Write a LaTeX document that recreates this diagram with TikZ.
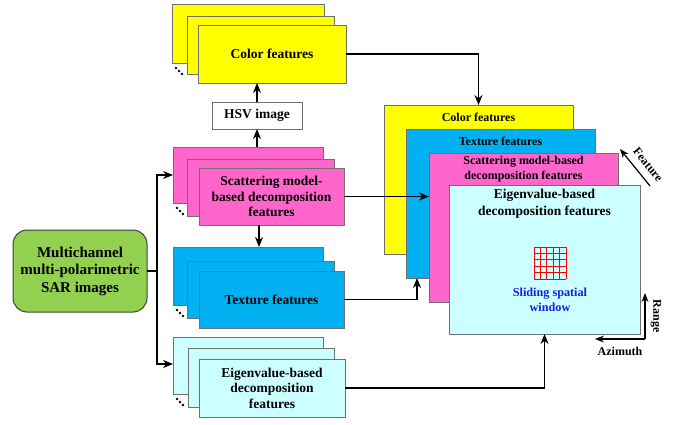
\documentclass[tikz,border=0pt]{standalone}
\usepackage{fontspec}
\setmainfont{Liberation Serif}
\usetikzlibrary{arrows.meta,calc}
\definecolor{cyel}{HTML}{FFFF00}
\definecolor{cblue}{HTML}{00B0F0}
\definecolor{cpink}{HTML}{FF66CC}
\definecolor{clcyan}{HTML}{CCFFFF}
\definecolor{cgreen}{HTML}{92D050}
\definecolor{cborder}{HTML}{6F6F6F}
\definecolor{cwin}{HTML}{1A1AE6}
\newcommand\bx[6]{\node[box,fill=#6,minimum width={(#4-#2)*1pt},minimum height={(#5-#3)*1pt}] (#1) at (#2,#3) {};}
\newcommand\dotsat[2]{\fill (#1+4,#2+5) circle (1.3) (#1+7,#2+8) circle (1.3) (#1+10,#2+11) circle (1.3);}
\begin{document}
\begin{tikzpicture}[x=1pt,y=-1pt,
  box/.style={draw=cborder, line width=0.7pt, anchor=north west, inner sep=0pt, outer sep=0pt},
  lbl/.style={font=\bfseries\fontsize{13.5}{15.5}\selectfont, align=center, text=black, inner sep=0pt},
  rlbl/.style={font=\bfseries\fontsize{12}{15}\selectfont, align=center, inner sep=0pt},
  conn/.style={line width=1.3pt, -{Stealth[length=10pt,width=8pt]}},
  sconn/.style={line width=1.2pt, -{Stealth[length=9pt,width=7pt]}}
]
\useasboundingbox (0,0) rectangle (682,424);

% ---- Color stack
\bx{colB}{172}{4}{324}{63}{cyel}
\bx{colM}{187}{16}{334}{74}{cyel}
\bx{colF}{198}{25}{346}{83}{cyel}
\node[lbl] (colT) at (colF) {Color features};
\dotsat{172}{63}

% ---- HSV
\bx{hsv}{212}{102}{302}{129}{white}
\node[lbl] (hsvT) at (hsv) {HSV image};

% ---- Scattering stack
\bx{scaB}{173}{147}{323}{203}{cpink}
\bx{scaM}{187}{159}{334}{216}{cpink}
\bx{scaF}{199}{168}{344}{225}{cpink}
\node[lbl] (scaT) at (scaF) {Scattering model-\\based decomposition\\features};
\dotsat{173}{203}

% ---- Texture stack
\bx{texB}{173}{247}{323}{305}{cblue}
\bx{texM}{187}{261}{334}{318}{cblue}
\bx{texF}{199}{271}{344}{328}{cblue}
\node[lbl] (texT) at (texF) {Texture features};
\dotsat{173}{305}

% ---- Eigenvalue stack
\bx{eigB}{173}{337}{323}{394}{clcyan}
\bx{eigM}{188}{348}{334}{407}{clcyan}
\bx{eigF}{199}{359}{345}{417}{clcyan}
\node[lbl] (eigT) at (eigF) {Eigenvalue-based\\decomposition\\features};
\dotsat{173}{394}

% ---- Multichannel
\node[draw=black!75, line width=1pt, fill=cgreen, rounded corners=14pt, anchor=north west,
  minimum width=134pt, minimum height=82pt, inner sep=0pt, outer sep=0pt,
  font=\bfseries\fontsize{15}{17.5}\selectfont, align=center] (multi) at (13,230)
  {Multichannel\\multi-polarimetric\\SAR images};

% ---- Right stack
\bx{rYel}{384}{105}{573}{254}{cyel}
\bx{rBlu}{406}{129}{595}{278}{cblue}
\bx{rPnk}{429}{153}{618}{302}{cpink}
\bx{rCya}{449}{185}{640}{334}{clcyan}
\node[rlbl] (rYelT) at (478.5,117) {Color features};
\node[rlbl] (rBluT) at (500.5,141) {Texture features};
\node[rlbl] (rPnkT) at (523.5,169.5) {Scattering model-based\\decomposition features};
\node[lbl, font=\bfseries\fontsize{13.5}{16.5}\selectfont] (rCyaT) at (544.5,203.5) {Eigenvalue-based\\decomposition features};

% sliding window grid
\foreach \i in {0,...,5} {
  \draw[red, line width=0.9pt] (534+6.4*\i,247) -- (534+6.4*\i,279);
  \draw[red, line width=0.9pt] (534,247+6.4*\i) -- (566,247+6.4*\i);
}
\node[rlbl, text=cwin, font=\bfseries\fontsize{12.2}{14.5}\selectfont] (win) at (550,300) {Sliding spatial\\window};

% ---- Connectors
\coordinate (jn) at (157,271);
\draw[line width=1.3pt] (multi.east) -- (jn);
\draw[conn] (jn) |- (scaB.west |- 0,175);
\draw[conn] (jn) |- (eigB.west |- 0,364);
\draw[conn] (hsv.south |- scaB.north) -- (hsv.south);
\draw[conn] (hsv.north) -- (hsv.north |- colF.south);
\coordinate (sd) at ($(scaF.south west)+(60,0)$);
\draw[conn] (sd) -- (sd |- texB.north);
\draw[conn] (colF.east) -| (rYel.north);
\draw[conn] (scaF.east) -- (scaF.east -| rPnk.west);
\coordinate (tu) at ($(rBlu.south west)+(11,0)$);
\draw[conn] (texF.east) -| (tu);
\draw[conn] (eigF.east) -| (rCya.south);

% ---- Range / Azimuth
\coordinate (ra) at (645,339);
\coordinate (az) at (595,339);
\coordinate (rg) at (645,293);
\draw[sconn] (ra) -- (az);
\draw[sconn] (ra) -- (rg);
\node[rlbl, rotate=-90] (rgT) at (656,316) {Range};
\node[rlbl] (azT) at (620,351) {Azimuth};

% ---- Feature
\coordinate (fs) at (650,186);
\coordinate (fe) at (620,149);
\draw[sconn] (fs) -- (fe);
\node[rlbl, rotate=-51] (feT) at (648,165) {Feature};
\end{tikzpicture}
\end{document}
